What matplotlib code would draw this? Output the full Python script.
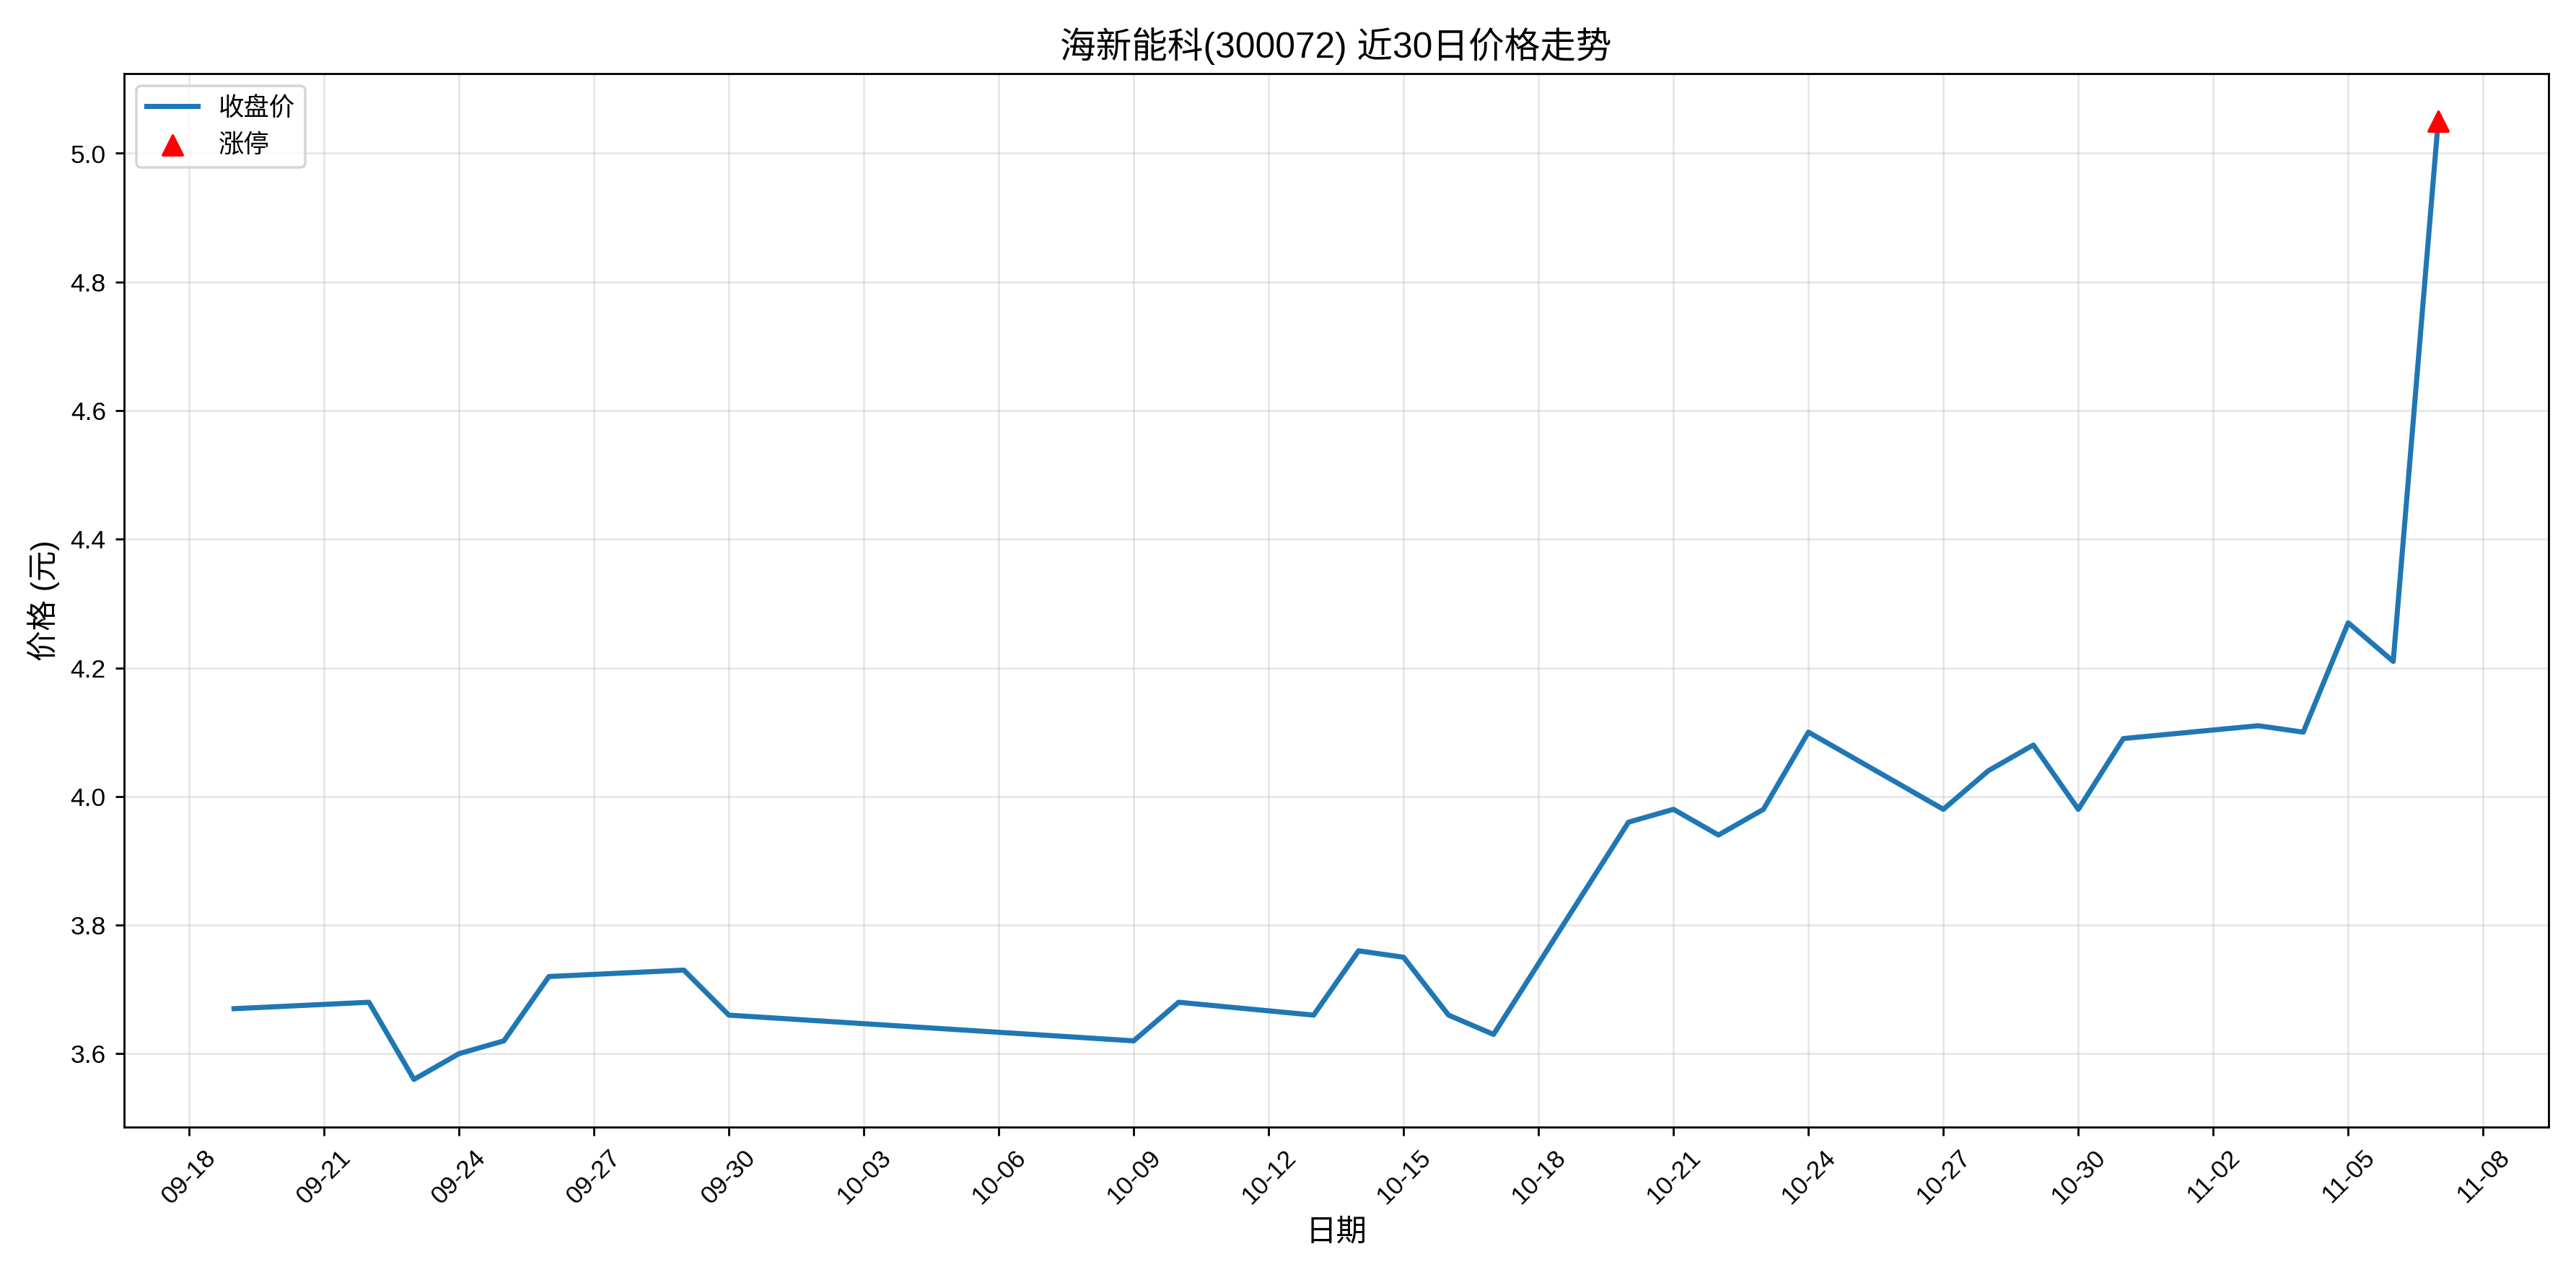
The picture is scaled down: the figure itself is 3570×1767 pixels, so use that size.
import matplotlib
matplotlib.use('Agg')
import matplotlib.pyplot as plt
import matplotlib.dates as mdates
import pandas as pd

plt.rcParams['font.family'] = ['Liberation Sans', 'Noto Sans CJK SC', 'DejaVu Sans']
plt.rcParams['axes.unicode_minus'] = False

dates = ['2025-09-19', '2025-09-22', '2025-09-23', '2025-09-24', '2025-09-25',
         '2025-09-26', '2025-09-29', '2025-09-30', '2025-10-09', '2025-10-10',
         '2025-10-13', '2025-10-14', '2025-10-15', '2025-10-16', '2025-10-17',
         '2025-10-20', '2025-10-21', '2025-10-22', '2025-10-23', '2025-10-24',
         '2025-10-27', '2025-10-28', '2025-10-29', '2025-10-30', '2025-10-31',
         '2025-11-03', '2025-11-04', '2025-11-05', '2025-11-06', '2025-11-07']
close = [3.67, 3.68, 3.56, 3.60, 3.62, 3.72, 3.73, 3.66, 3.62, 3.68,
         3.66, 3.76, 3.75, 3.66, 3.63, 3.96, 3.98, 3.94, 3.98, 4.10,
         3.98, 4.04, 4.08, 3.98, 4.09, 4.11, 4.10, 4.27, 4.21, 5.05]
limit_up_dates = ['2025-11-07']
limit_up_prices = [5.05]

x = pd.to_datetime(dates)
fig, ax = plt.subplots(figsize=(14, 6.93), dpi=255)
ax.plot(x, close, color='#1f77b4', linewidth=2, label='收盘价')
ax.scatter(pd.to_datetime(limit_up_dates), limit_up_prices, color='red', marker='^',
           s=60, zorder=5, label='涨停')

ax.set_title('海新能科(300072) 近30日价格走势', fontsize=14)
ax.set_xlabel('日期', fontsize=12)
ax.set_ylabel('价格 (元)', fontsize=12)
ax.set_xticks(pd.date_range('2025-09-18', '2025-11-08', freq='3D'))
ax.xaxis.set_major_formatter(mdates.DateFormatter('%m-%d'))
plt.setp(ax.get_xticklabels(), rotation=45)
ax.grid(True, alpha=0.3)
ax.legend(loc='upper left')
fig.tight_layout()
fig.savefig('out.png')
